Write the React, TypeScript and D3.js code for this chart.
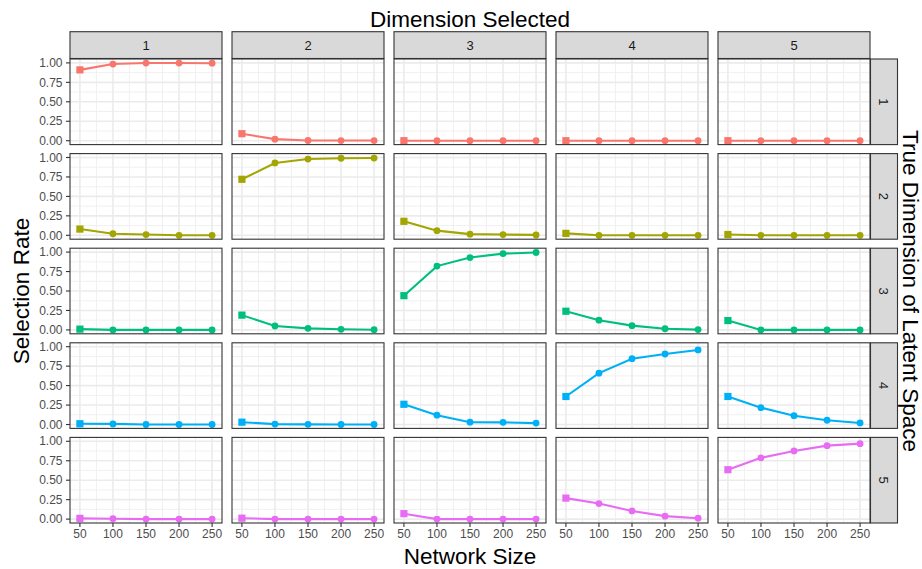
import * as d3 from "d3";

// network sizes on the x axis
const sizes = [50, 100, 150, 200, 250];
const dims = ["1", "2", "3", "4", "5"];
const yTicks = [0, 0.25, 0.5, 0.75, 1];
const xTicks = [50, 100, 150, 200, 250];
const colours = ["#F8766D", "#A3A500", "#00BF7D", "#00B0F6", "#E76BF3"];

// selection rates, one array per true dimension (row), one inner array per dimension selected (column)
const trueDim1 = [
    [0.91, 0.985, 0.998, 0.998, 0.996],
    [0.09, 0.02, 0.003, 0.002, 0.002],
    [0.0, 0.0, 0.0, 0.0, 0.0],
    [0.0, 0.0, 0.0, 0.0, 0.0],
    [0.0, 0.0, 0.0, 0.0, 0.0],
];
const trueDim2 = [
    [0.08, 0.02, 0.01, 0.0, 0.0],
    [0.72, 0.93, 0.98, 0.99, 0.993],
    [0.18, 0.06, 0.015, 0.01, 0.005],
    [0.025, 0.0, 0.0, 0.0, 0.0],
    [0.01, 0.0, 0.0, 0.0, 0.0],
];
const trueDim3 = [
    [0.01, 0.0, 0.0, 0.0, 0.0],
    [0.19, 0.05, 0.02, 0.008, 0.003],
    [0.44, 0.82, 0.93, 0.98, 0.995],
    [0.24, 0.125, 0.055, 0.015, 0.004],
    [0.12, 0.0, 0.0, 0.0, 0.0],
];
const trueDim4 = [
    [0.01, 0.008, 0.0, 0.0, 0.0],
    [0.03, 0.005, 0.002, 0.0, 0.0],
    [0.26, 0.12, 0.03, 0.028, 0.018],
    [0.36, 0.66, 0.846, 0.906, 0.958],
    [0.36, 0.216, 0.113, 0.055, 0.02],
];
const trueDim5 = [
    [0.01, 0.005, 0.0, 0.0, 0.0],
    [0.012, 0.0, 0.0, 0.0, 0.0],
    [0.07, 0.0, 0.0, 0.0, 0.0],
    [0.27, 0.2, 0.105, 0.038, 0.012],
    [0.635, 0.787, 0.876, 0.944, 0.97],
];
const rows = [trueDim1, trueDim2, trueDim3, trueDim4, trueDim5];

const width = 922;
const height = 569;
const left = 70;
const top = 59;
const pw = 152;
const ph = 85.6;
const gapX = 10;
const gapY = 9;
const font = "'Liberation Sans', Arial, sans-serif";

const App = () => {
    const xScale = d3.scaleLinear().domain([35, 265]).range([0, pw]);
    const yScale = d3.scaleLinear().domain([-0.05, 1.05]).range([ph, 0]);
    const xMinor = [75, 125, 175, 225];
    const yMinor = [0.125, 0.375, 0.625, 0.875];

    const lineGen = d3
        .line<number>()
        .x((d, i) => xScale(sizes[i]))
        .y((d) => yScale(d));

    const panelsRight = left + 5 * pw + 4 * gapX;
    const panelsBottom = top + 5 * ph + 4 * gapY;
    const midX = (left + panelsRight) / 2;
    const midY = (top + panelsBottom) / 2;

    return (
        <svg
            width={width}
            height={height}
            style={{ position: "absolute", left: 0, top: 0, background: "white" }}
            fontFamily={font}
        >
            {/* column strips */}
            {dims.map((d, c) => {
                const x0 = left + c * (pw + gapX);
                return (
                    <g key={"cs" + c}>
                        <rect x={x0} y={31.7} width={pw} height={top - 31.7 - 0.5} fill="#D9D9D9" stroke="#333333" strokeWidth={1.1} />
                        <text x={x0 + pw / 2} y={(31.7 + top) / 2} dy="0.35em" textAnchor="middle" fontSize={13} fill="#1A1A1A">
                            {d}
                        </text>
                    </g>
                );
            })}
            {/* row strips */}
            {dims.map((d, r) => {
                const y0 = top + r * (ph + gapY);
                return (
                    <g key={"rs" + r}>
                        <rect x={panelsRight + 0.5} y={y0} width={27} height={ph} fill="#D9D9D9" stroke="#333333" strokeWidth={1.1} />
                        <text
                            transform={`translate(${panelsRight + 14},${y0 + ph / 2}) rotate(90)`}
                            dy="0.35em"
                            textAnchor="middle"
                            fontSize={13}
                            fill="#1A1A1A"
                        >
                            {d}
                        </text>
                    </g>
                );
            })}
            {rows.map((row, r) =>
                row.map((vals, c) => {
                    const x0 = left + c * (pw + gapX);
                    const y0 = top + r * (ph + gapY);
                    return (
                        <g key={`p${r}-${c}`} transform={`translate(${x0},${y0})`}>
                            <rect width={pw} height={ph} fill="white" />
                            {xMinor.map((t) => (
                                <line key={"xm" + t} x1={xScale(t)} x2={xScale(t)} y1={0} y2={ph} stroke="#EEEEEE" strokeWidth={0.9} />
                            ))}
                            {yMinor.map((t) => (
                                <line key={"ym" + t} x1={0} x2={pw} y1={yScale(t)} y2={yScale(t)} stroke="#EEEEEE" strokeWidth={0.9} />
                            ))}
                            {xTicks.map((t) => (
                                <line key={"xg" + t} x1={xScale(t)} x2={xScale(t)} y1={0} y2={ph} stroke="#EBEBEB" strokeWidth={1.6} />
                            ))}
                            {yTicks.map((t) => (
                                <line key={"yg" + t} x1={0} x2={pw} y1={yScale(t)} y2={yScale(t)} stroke="#EBEBEB" strokeWidth={1.6} />
                            ))}
                            <path d={lineGen(vals) ?? ""} fill="none" stroke={colours[r]} strokeWidth={2.1} />
                            {vals.map((v, i) =>
                                i === 0 ? (
                                    <rect
                                        key={"pt" + i}
                                        x={xScale(sizes[i]) - 3.6}
                                        y={yScale(v) - 3.6}
                                        width={7.2}
                                        height={7.2}
                                        fill={colours[r]}
                                    />
                                ) : (
                                    <circle key={"pt" + i} cx={xScale(sizes[i])} cy={yScale(v)} r={3.4} fill={colours[r]} />
                                )
                            )}
                            <rect width={pw} height={ph} fill="none" stroke="#333333" strokeWidth={1.1} />
                            {/* y axis on the first column */}
                            {c === 0 &&
                                yTicks.map((t) => (
                                    <g key={"yt" + t} transform={`translate(0,${yScale(t)})`}>
                                        <line x1={-4} x2={0} stroke="#333333" strokeWidth={1.1} />
                                        <text x={-7.5} dy="0.35em" textAnchor="end" fontSize={12} fill="#4D4D4D">
                                            {d3.format(".2f")(t)}
                                        </text>
                                    </g>
                                ))}
                            {/* x axis on the last row */}
                            {r === rows.length - 1 &&
                                xTicks.map((t) => (
                                    <g key={"xt" + t} transform={`translate(${xScale(t)},${ph})`}>
                                        <line y1={0} y2={4} stroke="#333333" strokeWidth={1.1} />
                                        <text y={15} textAnchor="middle" fontSize={12} fill="#4D4D4D">
                                            {t}
                                        </text>
                                    </g>
                                ))}
                        </g>
                    );
                })
            )}
            <text x={midX} y={26.5} textAnchor="middle" fontSize={22.5} fill="black">
                Dimension Selected
            </text>
            <text x={midX} y={564} textAnchor="middle" fontSize={22.5} fill="black">
                Network Size
            </text>
            <text transform={`translate(29,${midY}) rotate(-90)`} textAnchor="middle" fontSize={22.5} fill="black">
                Selection Rate
            </text>
            <text transform={`translate(903,${midY}) rotate(90)`} textAnchor="middle" fontSize={22.5} fill="black">
                True Dimension of Latent Space
            </text>
        </svg>
    );
};

export default App;
